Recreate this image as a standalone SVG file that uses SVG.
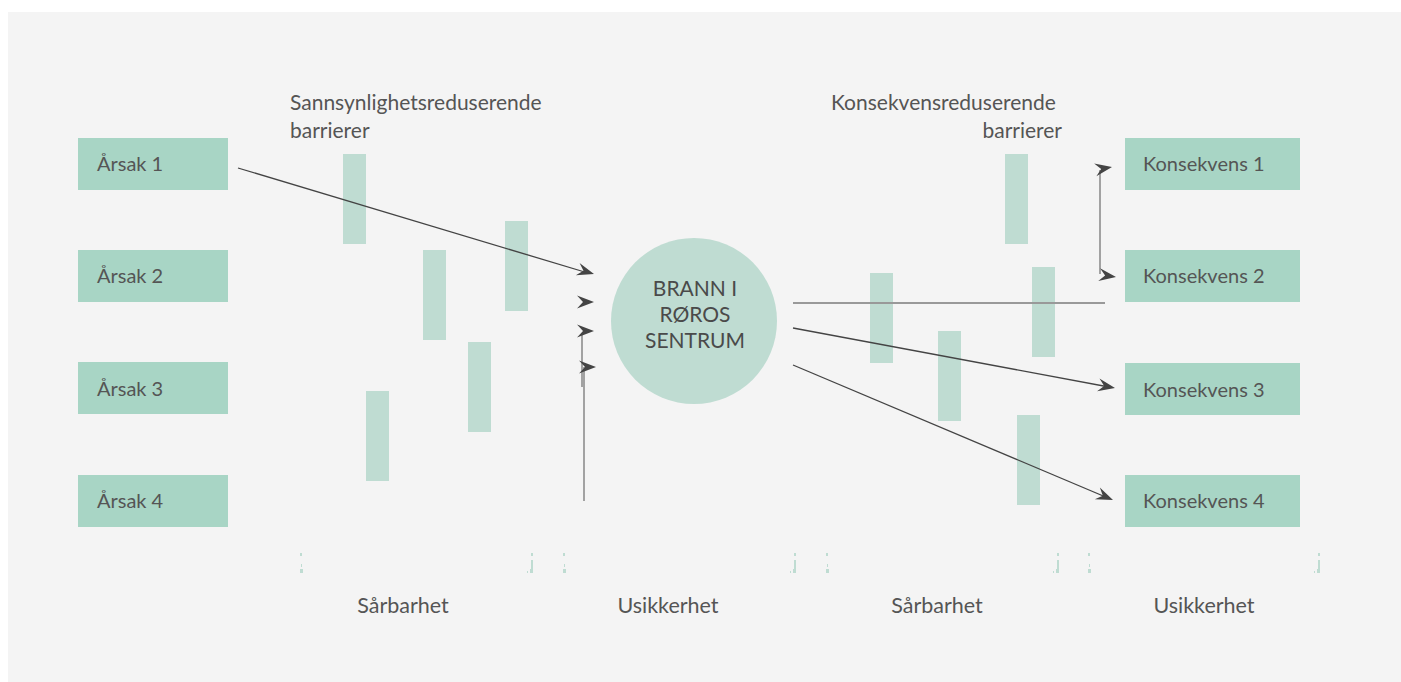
<svg xmlns="http://www.w3.org/2000/svg" width="1401" height="682" viewBox="0 0 1401 682">
<style>
.t{font-family:Lato,"Open Sans","Liberation Sans",sans-serif;font-size:20px;fill:#555}
.big{font-size:21px}
.bot{font-size:21.5px}
.box{fill:#a8d5c5}
.bar{fill:#bfdcd2}
.dl{stroke:#444;stroke-width:1.3;fill:none}
.gl{stroke:#999;stroke-width:1.8;fill:none}
.ah{fill:#444}
.mk{fill:#bfdcd2}
</style>
<defs>
<path id="head" d="M0,0 L-17,-6.5 L-11,0 L-17,6.5 Z"/>
<g id="m1"><rect x="0" y="0" width="2" height="3"/><rect x="0" y="7" width="2" height="10"/><rect x="-1" y="16" width="3" height="4"/><rect x="-4" y="18" width="1" height="2"/></g>
<g id="m2"><rect x="0" y="0" width="2" height="3"/><rect x="1" y="11" width="1" height="3"/><rect x="0" y="16" width="3" height="4"/></g>
</defs>
<rect x="8" y="12" width="1393" height="670" fill="#f4f4f4"/>

<g id="barriers">
<rect class="bar" x="343" y="154" width="23" height="90"/>
<rect class="bar" x="423" y="250" width="23" height="90"/>
<rect class="bar" x="505" y="221" width="23" height="90"/>
<rect class="bar" x="468" y="342" width="23" height="90"/>
<rect class="bar" x="366" y="391" width="23" height="90"/>
<rect class="bar" x="1005" y="154" width="23" height="90"/>
<rect class="bar" x="870" y="273" width="23" height="90"/>
<rect class="bar" x="938" y="331" width="23" height="90"/>
<rect class="bar" x="1032" y="267" width="23" height="90"/>
<rect class="bar" x="1017" y="415" width="23" height="90"/>
</g>

<g id="connectors">
<line class="dl" x1="238" y1="168" x2="588" y2="273"/>
<use href="#head" class="ah" transform="translate(594,274) rotate(16.7)"/>
<use href="#head" class="ah" transform="translate(594,302)"/>
<line class="gl" x1="582" y1="333" x2="582" y2="387"/>
<use href="#head" class="ah" transform="translate(594,331)"/>
<line class="gl" x1="584" y1="367" x2="584" y2="501"/>
<use href="#head" class="ah" transform="translate(596,367)"/>
<line class="gl" x1="793" y1="303" x2="1105" y2="303"/>
<line class="dl" x1="793" y1="328" x2="1109" y2="387"/>
<use href="#head" class="ah" transform="translate(1115,388) rotate(10.6)"/>
<line class="dl" x1="793" y1="365" x2="1108" y2="498"/>
<use href="#head" class="ah" transform="translate(1113,500) rotate(22.9)"/>
<line class="gl" x1="1100" y1="170" x2="1100" y2="274"/>
<use href="#head" class="ah" transform="translate(1112,167) rotate(-10)"/>
<use href="#head" class="ah" transform="translate(1116,277) rotate(8)"/>
</g>

<g id="circle">
<circle cx="694" cy="321" r="83" fill="#bfdcd2"/>
<text class="t" text-anchor="middle" x="695" y="296" style="fill:#4a4a4a;font-size:21px">BRANN I</text>
<text class="t" text-anchor="middle" x="695" y="322" style="fill:#4a4a4a;font-size:21px">RØROS</text>
<text class="t" text-anchor="middle" x="695" y="348" style="fill:#4a4a4a;font-size:21px">SENTRUM</text>
</g>

<g id="arsak1"><rect class="box" x="78" y="138" width="150" height="52"/><text class="t" x="97" y="171">Årsak 1</text></g>
<g id="arsak2"><rect class="box" x="78" y="250" width="150" height="52"/><text class="t" x="97" y="283">Årsak 2</text></g>
<g id="arsak3"><rect class="box" x="78" y="362" width="150" height="52"/><text class="t" x="97" y="396">Årsak 3</text></g>
<g id="arsak4"><rect class="box" x="78" y="475" width="150" height="52"/><text class="t" x="97" y="508">Årsak 4</text></g>

<g id="kons1"><rect class="box" x="1125" y="138" width="175" height="52"/><text class="t" x="1143" y="171">Konsekvens 1</text></g>
<g id="kons2"><rect class="box" x="1125" y="250" width="175" height="52"/><text class="t" x="1143" y="283">Konsekvens 2</text></g>
<g id="kons3"><rect class="box" x="1125" y="363" width="175" height="52"/><text class="t" x="1143" y="397">Konsekvens 3</text></g>
<g id="kons4"><rect class="box" x="1125" y="475" width="175" height="52"/><text class="t" x="1143" y="508">Konsekvens 4</text></g>

<g id="labels">
<text class="t big" x="290" y="110">Sannsynlighetsreduserende</text>
<text class="t big" x="290" y="138">barrierer</text>
<text class="t big" x="831" y="110">Konsekvensreduserende</text>
<text class="t big" x="1062" y="138" text-anchor="end">barrierer</text>
<text class="t bot" x="403" y="613" text-anchor="middle">Sårbarhet</text>
<text class="t bot" x="668" y="613" text-anchor="middle">Usikkerhet</text>
<text class="t bot" x="937" y="613" text-anchor="middle">Sårbarhet</text>
<text class="t bot" x="1204" y="613" text-anchor="middle">Usikkerhet</text>
</g>

<g id="marks" class="mk">
<use href="#m2" x="300" y="553"/>
<use href="#m1" x="531" y="553"/>
<use href="#m2" x="563" y="553"/>
<use href="#m1" x="794" y="553"/>
<use href="#m2" x="826" y="553"/>
<use href="#m1" x="1057" y="553"/>
<use href="#m2" x="1088" y="553"/>
<use href="#m1" x="1318" y="553"/>
</g>
</svg>
